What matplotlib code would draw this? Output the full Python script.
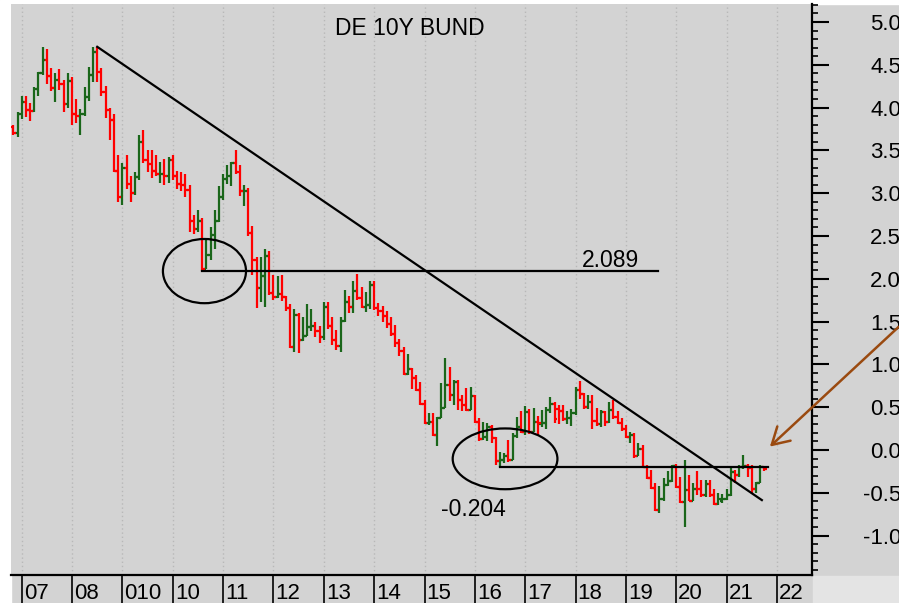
import numpy as np
import matplotlib
matplotlib.use("Agg")
from matplotlib import pyplot as plt
from matplotlib.patches import Ellipse, Rectangle
from matplotlib.ticker import MultipleLocator, FormatStrFormatter
import matplotlib.transforms as mtransforms

plt.rcParams['font.family'] = ['Liberation Sans', 'DejaVu Sans']
plt.rcParams['axes.unicode_minus'] = False

# monthly OHLC, first bar = Nov 2006
start_year, start_month = 2006, 11
opens = [3.77, 3.70,
         3.93, 4.06, 3.97, 3.96, 4.22, 4.40, 4.56, 4.37, 4.23, 4.32, 4.28, 4.04,
         4.31, 3.93, 3.90, 3.93, 4.12, 4.38, 4.65, 4.42, 4.18, 3.97, 3.86, 3.26,
         2.95, 3.30, 3.11, 3.00, 3.19, 3.60, 3.39, 3.34, 3.26, 3.22, 3.23, 3.20,
         3.39, 3.20, 3.11, 3.09, 3.04, 2.67, 2.58, 2.67, 2.12, 2.28, 2.51, 2.67,
         2.96, 3.16, 3.20, 3.35, 3.25, 3.02, 3.03, 2.54, 2.22, 1.89, 2.03, 2.27,
         1.83, 1.79, 1.82, 1.79, 1.66, 1.20, 1.58, 1.29, 1.33, 1.44, 1.45, 1.39,
         1.32, 1.67, 1.45, 1.29, 1.21, 1.51, 1.73, 1.67, 1.86, 1.78, 1.67, 1.69,
         1.93, 1.66, 1.62, 1.57, 1.47, 1.36, 1.25, 1.16, 0.89, 0.95, 0.84, 0.70,
         0.54, 0.32, 0.33, 0.18, 0.37, 0.49, 0.76, 0.64, 0.80, 0.59, 0.52, 0.47,
         0.63, 0.33, 0.13, 0.15, 0.27, 0.14, -0.13, -0.12, -0.07, -0.12, 0.16, 0.27,
         0.21, 0.44, 0.21, 0.33, 0.30, 0.31, 0.47, 0.54, 0.48, 0.46, 0.36, 0.37,
         0.43, 0.70, 0.66, 0.50, 0.56, 0.34, 0.30, 0.44, 0.33, 0.47, 0.39, 0.31,
         0.24, 0.15, 0.18, -0.07, 0.01, -0.20, -0.33, -0.44, -0.70, -0.57, -0.41, -0.36,
         -0.19, -0.43, -0.61, -0.47, -0.59, -0.45, -0.46, -0.53, -0.40, -0.52, -0.63, -0.59,
         -0.57, -0.52, -0.26, -0.29, -0.20, -0.19, -0.21, -0.46, -0.38, -0.20]
highs = [3.80, 3.95,
         4.13, 4.13, 4.05, 4.24, 4.42, 4.71, 4.68, 4.46, 4.40, 4.45, 4.32, 4.40,
         4.36, 4.10, 3.98, 4.24, 4.47, 4.71, 4.71, 4.46, 4.25, 4.00, 3.93, 3.45,
         3.35, 3.45, 3.20, 3.25, 3.68, 3.74, 3.50, 3.50, 3.45, 3.37, 3.40, 3.42,
         3.45, 3.26, 3.25, 3.22, 3.10, 2.75, 2.80, 2.71, 2.45, 2.61, 2.80, 3.08,
         3.23, 3.33, 3.37, 3.50, 3.33, 3.10, 3.06, 2.62, 2.26, 2.26, 2.35, 2.33,
         2.05, 2.03, 2.05, 1.80, 1.70, 1.65, 1.60, 1.55, 1.70, 1.65, 1.50, 1.45,
         1.73, 1.73, 1.55, 1.40, 1.55, 1.87, 1.80, 1.98, 2.06, 1.90, 1.85, 1.97,
         1.98, 1.72, 1.68, 1.62, 1.55, 1.46, 1.30, 1.20, 1.12, 0.96, 0.88, 0.80,
         0.59, 0.43, 0.43, 0.39, 0.78, 1.07, 0.97, 0.82, 0.82, 0.64, 0.72, 0.74,
         0.64, 0.37, 0.33, 0.31, 0.29, 0.15, -0.02, -0.03, 0.12, 0.20, 0.38, 0.45,
         0.51, 0.48, 0.49, 0.40, 0.47, 0.50, 0.62, 0.56, 0.52, 0.52, 0.45, 0.48,
         0.74, 0.81, 0.67, 0.64, 0.64, 0.49, 0.47, 0.46, 0.56, 0.58, 0.45, 0.37,
         0.29, 0.21, 0.20, 0.08, 0.06, -0.18, -0.23, -0.39, -0.42, -0.33, -0.24, -0.17,
         -0.16, -0.31, -0.12, -0.29, -0.39, -0.25, -0.35, -0.35, -0.35, -0.45, -0.50, -0.51,
         -0.45, -0.20, -0.23, -0.18, -0.06, -0.16, -0.18, -0.37, -0.18, -0.19]
lows = [3.68, 3.66,
        3.87, 3.89, 3.84, 3.95, 4.13, 4.38, 4.28, 4.19, 4.07, 4.20, 3.95, 4.00,
        3.80, 3.82, 3.68, 3.90, 4.08, 4.30, 4.30, 4.14, 3.88, 3.62, 3.25, 2.90,
        2.86, 3.05, 2.90, 2.98, 3.15, 3.35, 3.25, 3.18, 3.20, 3.12, 3.10, 3.12,
        3.15, 3.05, 3.03, 2.95, 2.55, 2.52, 2.55, 2.09, 2.12, 2.22, 2.35, 2.66,
        2.92, 3.11, 3.08, 3.23, 2.97, 2.85, 2.50, 2.04, 1.66, 1.73, 1.67, 1.81,
        1.75, 1.77, 1.74, 1.62, 1.19, 1.15, 1.13, 1.27, 1.33, 1.39, 1.32, 1.25,
        1.28, 1.41, 1.23, 1.17, 1.15, 1.50, 1.60, 1.60, 1.75, 1.66, 1.61, 1.65,
        1.63, 1.57, 1.50, 1.43, 1.33, 1.20, 1.10, 0.88, 0.88, 0.71, 0.69, 0.53,
        0.30, 0.29, 0.16, 0.05, 0.37, 0.49, 0.57, 0.53, 0.47, 0.45, 0.46, 0.47,
        0.31, 0.11, 0.12, 0.10, 0.08, -0.17, -0.204, -0.15, -0.14, -0.12, 0.14, 0.20,
        0.17, 0.19, 0.21, 0.18, 0.27, 0.24, 0.43, 0.32, 0.30, 0.34, 0.30, 0.28,
        0.41, 0.60, 0.48, 0.48, 0.25, 0.28, 0.27, 0.28, 0.31, 0.36, 0.30, 0.22,
        0.14, 0.08, -0.09, -0.07, -0.21, -0.34, -0.45, -0.71, -0.74, -0.60, -0.42, -0.37,
        -0.44, -0.62, -0.90, -0.60, -0.60, -0.53, -0.55, -0.55, -0.55, -0.64, -0.64, -0.62,
        -0.58, -0.54, -0.38, -0.32, -0.22, -0.31, -0.51, -0.50, -0.39, -0.24]
closes = [3.70, 3.93,
          4.06, 3.97, 3.96, 4.22, 4.40, 4.56, 4.37, 4.23, 4.32, 4.28, 4.04, 4.31,
          3.93, 3.90, 3.93, 4.12, 4.38, 4.65, 4.42, 4.18, 3.97, 3.86, 3.26, 2.95,
          3.30, 3.11, 3.00, 3.19, 3.60, 3.39, 3.34, 3.26, 3.22, 3.23, 3.20, 3.39,
          3.20, 3.11, 3.09, 3.04, 2.67, 2.58, 2.67, 2.12, 2.28, 2.51, 2.67, 2.96,
          3.16, 3.20, 3.35, 3.25, 3.02, 3.03, 2.54, 2.22, 1.89, 2.03, 2.27, 1.83,
          1.79, 1.82, 1.79, 1.66, 1.20, 1.58, 1.29, 1.33, 1.44, 1.45, 1.39, 1.32,
          1.67, 1.45, 1.29, 1.21, 1.51, 1.73, 1.67, 1.86, 1.78, 1.67, 1.69, 1.93,
          1.66, 1.62, 1.57, 1.47, 1.36, 1.25, 1.16, 0.89, 0.95, 0.84, 0.70, 0.54,
          0.32, 0.33, 0.18, 0.37, 0.49, 0.76, 0.64, 0.80, 0.59, 0.52, 0.47, 0.63,
          0.33, 0.13, 0.15, 0.27, 0.14, -0.13, -0.12, -0.07, -0.12, 0.16, 0.27, 0.21,
          0.44, 0.21, 0.33, 0.32, 0.31, 0.47, 0.54, 0.36, 0.46, 0.36, 0.37, 0.43,
          0.70, 0.66, 0.50, 0.56, 0.34, 0.30, 0.44, 0.33, 0.47, 0.39, 0.31, 0.24,
          0.15, 0.18, -0.07, 0.01, -0.20, -0.33, -0.44, -0.70, -0.57, -0.41, -0.36, -0.19,
          -0.43, -0.61, -0.47, -0.59, -0.45, -0.46, -0.53, -0.40, -0.52, -0.63, -0.57, -0.57,
          -0.52, -0.26, -0.29, -0.20, -0.19, -0.21, -0.46, -0.38, -0.20, -0.22]

year_ticks = list(range(2007, 2023))
year_labels = ["07", "08", "010", "10", "11", "12", "13", "14", "15",
               "16", "17", "18", "19", "20", "21", "22"]

title = "DE 10Y BUND"
trend_x = [2008.50, 2021.70]
trend_y = [4.71, -0.585]
resistance = 2.089
resistance_x = [2010.583, 2019.643]
support = -0.204
support_x = [2016.50, 2021.83]
circle_1 = (2010.63, 2.09, 1.65, 0.75)     # x, y, width, height
circle_2 = (2016.60, -0.103, 2.08, 0.71)
arrow_tip = (2021.86, 0.04)
arrow_tail = (2024.42, 1.44)

RED = "#ff0000"
GREEN = "#1a661a"
BG = "#d3d3d3"

n = len(closes)
x = (start_year * 12 + (start_month - 1) + np.arange(n)) / 12.0
o, h, l, c = map(np.asarray, (opens, highs, lows, closes))
colors = np.where(c >= o, GREEN, RED)

fig = plt.figure(figsize=(8.99, 6.03), dpi=100, facecolor=BG)
fig.patches.append(Rectangle((0, 599 / 603), 1, 4 / 603, transform=fig.transFigure,
                             color="white", zorder=-1))
fig.patches.append(Rectangle((0, 0), 11 / 899, 1, transform=fig.transFigure,
                             color="white", zorder=-1))
fig.patches.append(Rectangle((813 / 899, 0), 86 / 899, 27 / 603, transform=fig.transFigure,
                             color="#e4e4e4", zorder=-1))

ax = fig.add_axes([11 / 899, 28 / 603, 801 / 899, 571 / 603])
ax.set_facecolor(BG)
ax.set_xlim(2006.7875, 2022.696)
ax.set_ylim(-1.46, 5.21)

# OHLC bars
w = 0.055
ax.vlines(x, l, h, colors=colors, lw=1.6, zorder=3)
ax.hlines(o, x - w, x, colors=colors, lw=1.6, zorder=3)
ax.hlines(c, x, x + w, colors=colors, lw=1.6, zorder=3)

# trend lines and levels
ax.plot(trend_x, trend_y, color="black", lw=1.6, zorder=4)
ax.plot(resistance_x, [resistance, resistance], color="black", lw=1.6, zorder=4)
ax.plot(support_x, [support, support], color="black", lw=1.6, zorder=4)
for cx, cy, ew, eh in (circle_1, circle_2):
    ax.add_patch(Ellipse((cx, cy), ew, eh, fill=False, ec="black", lw=1.6, zorder=4))

ax.text(2018.12, 2.135, f"{resistance:.3f}", fontsize=16.5, ha="left", va="baseline")
ax.text(2015.33, -0.765, f"{support:.3f}", fontsize=16.5, ha="left", va="baseline")
ax.text(0.498, 0.946, title, transform=ax.transAxes, fontsize=16.5,
        ha="center", va="baseline")

ax.annotate("", xy=arrow_tip, xytext=arrow_tail, annotation_clip=False,
            arrowprops=dict(arrowstyle="->,head_length=0.6,head_width=0.35",
                            color="#9a4a10", lw=1.8, mutation_scale=20,
                            shrinkA=0, shrinkB=0))

# axes styling
for side in ("top", "left"):
    ax.spines[side].set_visible(False)
for side in ("bottom", "right"):
    ax.spines[side].set_linewidth(1.6)

ax.yaxis.tick_right()
ax.yaxis.set_major_locator(MultipleLocator(0.5))
ax.yaxis.set_minor_locator(MultipleLocator(0.1))
ax.yaxis.set_major_formatter(FormatStrFormatter("%.1f"))
ax.tick_params(axis="y", which="major", direction="out", length=12, width=1.5,
               labelsize=16, pad=52)
ax.tick_params(axis="y", which="minor", direction="out", length=4.5, width=1.2)
plt.setp(ax.get_yticklabels(), ha="right")

ax.set_xticks(year_ticks)
ax.tick_params(axis="x", which="major", direction="out", length=20.5, width=1.2,
               labelbottom=False)
ax.grid(axis="x", which="major", color="#b8b8b8", lw=1.0, ls=(0, (1, 2)))

trans = mtransforms.blended_transform_factory(ax.transData, ax.transAxes)
for yr, lab in zip(year_ticks, year_labels):
    ax.text(yr + 0.04, -0.042, lab, transform=trans, fontsize=16,
            ha="left", va="baseline", clip_on=False)

fig.savefig("out.png", dpi=100, facecolor=BG)
